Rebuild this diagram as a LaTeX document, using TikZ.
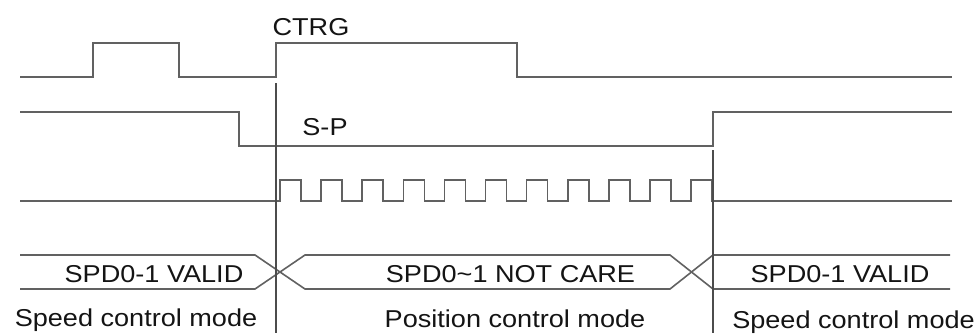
\documentclass[tikz,border=0pt]{standalone}
\usepackage{fontspec}
\newfontfamily\labfont[FakeStretch=1.11]{Liberation Sans}
\begin{document}
\begin{tikzpicture}[x=1bp,y=-1bp,
  sig/.style={draw=black!62,line width=1.6bp,line join=miter},
  marker/.style={draw=black!70,line width=1.1bp},
  lab/.style={font=\labfont\fontsize{24.5}{28}\selectfont,text=black!92,inner sep=0pt,anchor=base}]
\useasboundingbox (0,0) rectangle (979,333);
% CTRG
\draw[sig] (20,77) -- (93,77) -- (93,43) -- (179,43) -- (179,77) -- (276,77) -- (276,43) -- (517,43) -- (517,77) -- (952,77);
% S-P
\draw[sig] (20,112) -- (239,112) -- (239,146) -- (713,146) -- (713,112) -- (952,112);
% pulse train
\draw[sig] (20,201) -- (280,201)
  \foreach \i in {0,...,10} { -- ({280+41.1*\i},201) -- ({280+41.1*\i},180) -- ({301+41.1*\i},180) -- ({301+41.1*\i},201) }
  -- (952,201);
% bus
\draw[sig] (20,255) -- (255,255) -- (305,289) -- (670,289) -- (713,255) -- (950,255);
\draw[sig] (20,289) -- (255,289) -- (305,255) -- (670,255) -- (713,289) -- (950,289);
% marker lines
\coordinate (m1a) at (276,83);
\coordinate (m1b) at (276,333);
\coordinate (m2a) at (713,150);
\coordinate (m2b) at (713,333);
\draw[marker] (m1a) -- (m1b);
\draw[marker] (m2a) -- (m2b);
% labels
\node[lab] (ctrg) at (311,35) {CTRG};
\node[lab] (sp) at (325,135) {S-P};
\node[lab] (v1) at (154,282.5) {SPD0-1 VALID};
\node[lab] (nc) at (510.5,282.5) {SPD0\char"007E 1 NOT CARE};
\node[lab] (v2) at (840,282.5) {SPD0-1 VALID};
\node[lab] (m1) at (136,326.5) {Speed control mode};
\node[lab] (m2) at (515,327) {Position control mode};
\node[lab] (m3) at (853.5,328.5) {Speed control mode};
\end{tikzpicture}
\end{document}
